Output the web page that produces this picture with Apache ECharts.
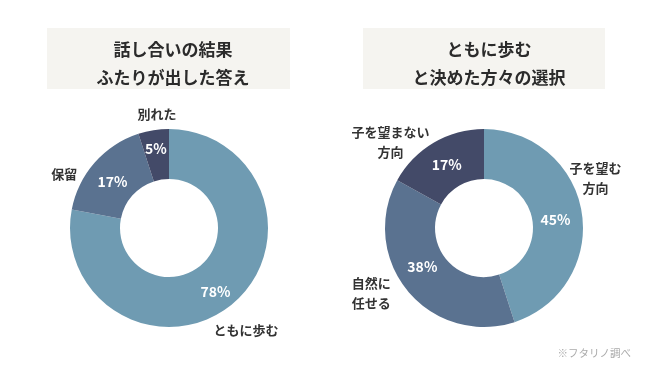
<!DOCTYPE html>
<html><head><meta charset="utf-8">
<script src="https://cdn.jsdelivr.net/npm/echarts@6/dist/echarts.min.js"></script>
<style>html,body{margin:0;padding:0;background:#fff}#c{width:650px;height:366px}</style>
</head><body><div id="c"></div>
<script>
// ---- data ----
const leftTitle = ['話し合いの結果', 'ふたりが出した答え'];
const leftNames = ['ともに歩む', '保留', '別れた'];
const leftValues = [78, 17, 5];
const rightTitle = ['ともに歩む', 'と決めた方々の選択'];
const rightNames = ['子を望む\n方向', '自然に\n任せる', '子を望まない\n方向'];
const rightValues = [45, 38, 17];
const footnote = '※フタリノ調べ';

// ---- style ----
const colors = ['#6f9bb2', '#5a7290', '#434a68'];
const FONT = '"Noto Sans CJK JP", "Noto Sans", sans-serif';
const charts = [
  { center: [169, 228], names: leftNames, values: leftValues,
    // per item [radius, angle nudge deg] for name labels and percent labels
    nameAdj: [[128, 2.6], [118, -14], [115, 3]],
    pctAdj: [[79, 3.5], [73, -2], [80, -0.5]] },
  { center: [484, 228], names: rightNames, values: rightValues,
    nameAdj: [[122, -15], [130, 9.8], [127, -16.8]],
    pctAdj: [[72, 2.6], [73, 7.2], [73, 0]] }
];
const R0 = 49, R1 = 99;

function midAngles(vals) {
  const total = vals.reduce((a, b) => a + b, 0);
  let acc = 0;
  return vals.map(v => { const m = (acc + v / 2) / total * 360; acc += v; return m; });
}
function polar(center, r, deg) {
  const a = deg * Math.PI / 180;
  return [center[0] + r * Math.sin(a), center[1] - r * Math.cos(a)];
}

const series = [];
charts.forEach((ch) => {
  const mids = midAngles(ch.values);
  const data = ch.values.map((v, i) => ({ name: ch.names[i], value: v, itemStyle: { color: colors[i] } }));
  series.push({
    type: 'pie', center: ch.center, radius: [R0, R1], startAngle: 90, clockwise: true,
    silent: true, animation: false, avoidLabelOverlap: false,
    label: { show: true, position: 'inside', formatter: '{c}%', color: '#fff',
      fontFamily: FONT, fontSize: 14, fontWeight: 'bold' },
    labelLine: { show: false },
    labelLayout: (p) => {
      const adj = ch.pctAdj[p.dataIndex];
      const pt = polar(ch.center, adj[0], mids[p.dataIndex] + adj[1]);
      return { x: pt[0], y: pt[1], align: 'center', verticalAlign: 'middle' };
    },
    data: data
  });
  series.push({
    type: 'pie', center: ch.center, radius: [R0, R1], startAngle: 90, clockwise: true,
    silent: true, animation: false, avoidLabelOverlap: false,
    itemStyle: { color: 'rgba(0,0,0,0)' },
    label: { show: true, position: 'inside', formatter: '{b}', color: '#333',
      fontFamily: FONT, fontSize: 13, fontWeight: 'bold', lineHeight: 20, align: 'center',
      overflow: 'none' },
    labelLine: { show: false },
    labelLayout: (p) => {
      const adj = ch.nameAdj[p.dataIndex];
      const pt = polar(ch.center, adj[0], mids[p.dataIndex] + adj[1]);
      return { x: pt[0], y: pt[1], align: 'center', verticalAlign: 'middle' };
    },
    data: ch.values.map((v, i) => ({ name: ch.names[i], value: v }))
  });
});

const titleStyle = { fontFamily: FONT, fontSize: 17, fontWeight: 'bold', color: '#2b2b2b', lineHeight: 28 };
const option = {
  backgroundColor: '#fff',
  graphic: [
    { type: 'rect', shape: { x: 47, y: 28, width: 243, height: 61 }, style: { fill: '#f5f4f0' }, z: 0 },
    { type: 'rect', shape: { x: 363, y: 28, width: 242, height: 61 }, style: { fill: '#f5f4f0' }, z: 0 }
  ],
  title: [
    { text: leftTitle.join('\n'), left: 168, top: 31, textAlign: 'center', textStyle: titleStyle },
    { text: rightTitle.join('\n'), left: 484, top: 31, textAlign: 'center', textStyle: titleStyle },
    { text: footnote, right: 14, top: 343, textStyle: { fontFamily: FONT, fontSize: 10.5, color: '#aaaaaa', fontWeight: 'normal' } }
  ],
  series: series
};
const chart = echarts.init(document.getElementById('c'), null, { renderer: 'canvas' });
chart.setOption(option);
</script></body></html>
